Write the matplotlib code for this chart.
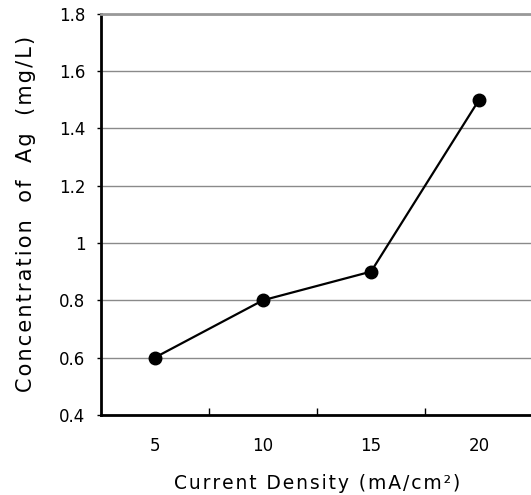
import numpy as np
import matplotlib.pyplot as plt

plt.rcParams['font.family'] = ['DejaVu Sans']

# data
densities = ['5', '10', '15', '20']
ag_conc = [0.6, 0.8, 0.9, 1.5]
y_ticks = [0.4, 0.6, 0.8, 1.0, 1.2, 1.4, 1.6, 1.8]
y_labels = ['0.4', '0.6', '0.8', '1', '1.2', '1.4', '1.6', '1.8']


def spaced(s, gap='\u200a'):
    # the original text is set with loose letter spacing
    return gap.join(s).replace(' ', '  ')


fig = plt.figure(figsize=(5.31, 4.95), dpi=100)
ax = fig.add_axes([0.190, 0.162, 0.814, 0.810])

x = np.arange(len(densities))
ax.plot(x, ag_conc, color='black', lw=1.6, marker='o', markersize=9, zorder=3)

ax.set_xlim(-0.5, len(densities) - 0.5)
ax.set_ylim(0.4, 1.8)
ax.set_yticks(y_ticks)
ax.set_yticklabels(y_labels, fontsize=12)

# category labels sit between the tick marks
ax.set_xticks(x[:-1] + 0.5)
ax.set_xticklabels([])
ax.set_xticks(x, minor=True)
ax.set_xticklabels(densities, minor=True, fontsize=12)
ax.tick_params(axis='x', which='major', direction='in', length=5, width=1)
ax.tick_params(axis='x', which='minor', length=0, pad=16)
ax.tick_params(axis='y', direction='out', length=3, width=1, pad=8)

ax.grid(axis='y', color='#8a8a8a', lw=1)
ax.set_axisbelow(True)

ax.spines['left'].set_linewidth(2)
ax.spines['bottom'].set_linewidth(2)
ax.spines['top'].set_color('#999999')
ax.spines['top'].set_linewidth(2)
ax.spines['right'].set_visible(False)

ax.set_xlabel('\u200a'.join('Current Density (mA/cm²)'), fontsize=13.5, labelpad=14)
ax.set_ylabel(spaced('Concentration of Ag (mg/L)'), fontsize=15, labelpad=17)

plt.savefig('out.png', dpi=100)
